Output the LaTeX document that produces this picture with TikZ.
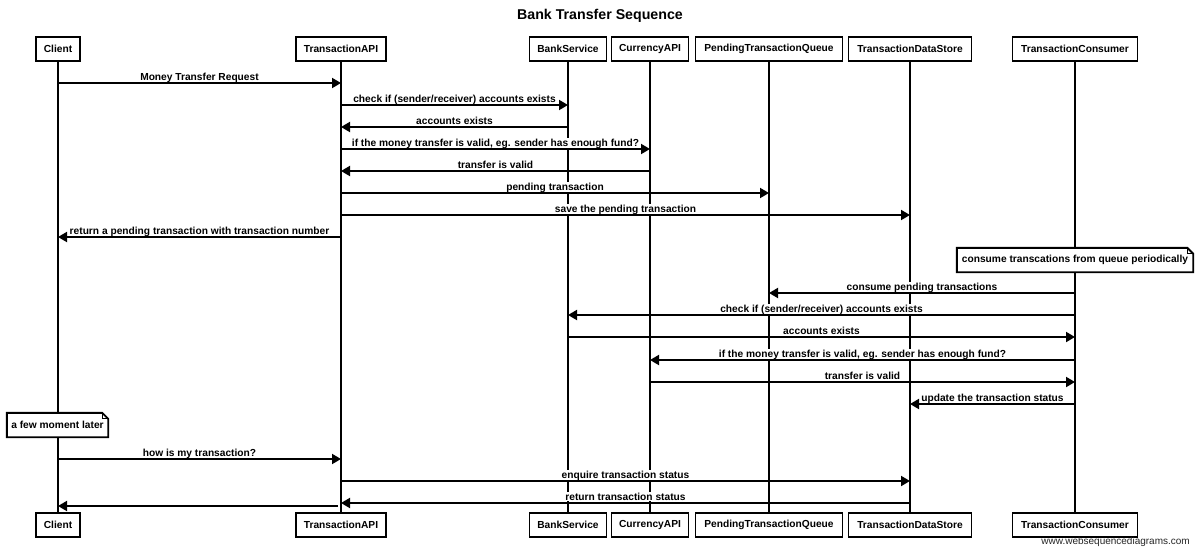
\documentclass[tikz,border=0pt]{standalone}
\usepackage{fontspec}
\setmainfont{Liberation Sans}
\usetikzlibrary{arrows.meta,calc}
\newcommand{\seqmsg}[4]{%
  \coordinate (s#3) at (#1 |- 0,#3);
  \coordinate (t#3) at (#2 |- 0,#3);
  \node[lbl] (l#3) at ($(s#3)!0.5!(t#3)$) {#4};
  \draw[msg] (s#3) -- (t#3);
}
\newcommand{\seqnote}[1]{%
  \draw[noteline] (#1.north west) -- ([xshift=-6pt]#1.north east) -- ([yshift=-6pt]#1.north east) -- (#1.south east) -- (#1.south west) -- cycle;
  \draw[line width=1pt] ([xshift=-6pt]#1.north east) |- ([yshift=-6pt]#1.north east);
}
\begin{document}
\begin{tikzpicture}[x=1pt,y=-1pt,
  every node/.style={font=\fontsize{10.2}{12}\selectfont\bfseries},
  actor/.style={draw, line width=1.9pt, fill=white, minimum height=24pt, inner sep=0pt},
  life/.style={line width=2.2pt},
  msg/.style={line width=1.9pt, -{Triangle[length=9pt,width=10pt]}},
  lbl/.style={fill=white, inner sep=0.8pt, anchor=base, yshift=2.5pt},
  notebox/.style={fill=white, minimum height=24pt, inner sep=0pt},
  noteline/.style={line width=1.9pt}
]
\useasboundingbox[fill=white] (0,0) rectangle (1200,555);

\node[font=\fontsize{14.2}{16}\selectfont\bfseries] (title) at (600,16) {Bank Transfer Sequence};

% top actors
\node[actor, minimum width=44pt]  (cli)   at (58,49)   {Client};
\node[actor, minimum width=90pt]  (api)   at (341,49)  {TransactionAPI};
\node[actor, minimum width=77pt]  (bank)  at (568,49) {BankService};
\node[actor, minimum width=77pt]  (cur)   at (650,49) {CurrencyAPI};
\node[actor, minimum width=147pt] (queue) at (769,49) {PendingTransactionQueue};
\node[actor, minimum width=123pt] (store) at (910,49) {TransactionDataStore};
\node[actor, minimum width=125pt] (cons)  at (1075,49) {TransactionConsumer};
% bottom actors
\node[actor, minimum width=44pt]  (cliB)   at (58,525)   {Client};
\node[actor, minimum width=90pt]  (apiB)   at (341,525)  {TransactionAPI};
\node[actor, minimum width=77pt]  (bankB)  at (568,525) {BankService};
\node[actor, minimum width=77pt]  (curB)   at (650,525) {CurrencyAPI};
\node[actor, minimum width=147pt] (queueB) at (769,525) {PendingTransactionQueue};
\node[actor, minimum width=123pt] (storeB) at (910,525) {TransactionDataStore};
\node[actor, minimum width=125pt] (consB)  at (1075,525) {TransactionConsumer};

% lifelines
\foreach \a in {cli,api,bank,cur,queue,store,cons}
  \draw[life] (\a.south) -- (\a B.north);

\seqmsg{cli}{api}{83}{Money Transfer Request}
\seqmsg{api}{bank}{105}{check if (sender/receiver) accounts exists}
\seqmsg{bank}{api}{127}{accounts exists}
\seqmsg{api}{cur}{149}{if the money transfer is valid, eg. sender has enough fund?}
\seqmsg{cur}{api}{171}{transfer is valid}
\seqmsg{api}{queue}{193}{pending transaction}
\seqmsg{api}{store}{215}{save the pending transaction}
\seqmsg{api}{cli}{237}{return a pending transaction with transaction number}

\node[notebox, minimum width=236pt] (note1) at (1075,260) {consume transcations from queue periodically};
\seqnote{note1}

\seqmsg{cons}{queue}{293}{consume pending transactions}
\seqmsg{cons}{bank}{315}{check if (sender/receiver) accounts exists}
\seqmsg{bank}{cons}{337}{accounts exists}
\seqmsg{cons}{cur}{360}{if the money transfer is valid, eg. sender has enough fund?}
\seqmsg{cur}{cons}{382}{transfer is valid}
\seqmsg{cons}{store}{404}{update the transaction status}

\node[notebox, minimum width=101pt] (note2) at (57.5,425) {a few moment later};
\seqnote{note2}

\seqmsg{cli}{api}{459}{how is my transaction?}
\seqmsg{api}{store}{481}{enquire transaction status}
\seqmsg{store}{api}{503}{return transaction status}

\coordinate (r1) at ($(api |- 0,506)+(-3,0)$);
\coordinate (r2) at (cli |- 0,506);
\draw[msg] (r1) -- (r2);

\node[anchor=east, inner sep=0pt, font=\fontsize{10}{12}\selectfont, text=black!85] (footer) at (1190,542) {www.websequencediagrams.com};
\end{tikzpicture}
\end{document}
